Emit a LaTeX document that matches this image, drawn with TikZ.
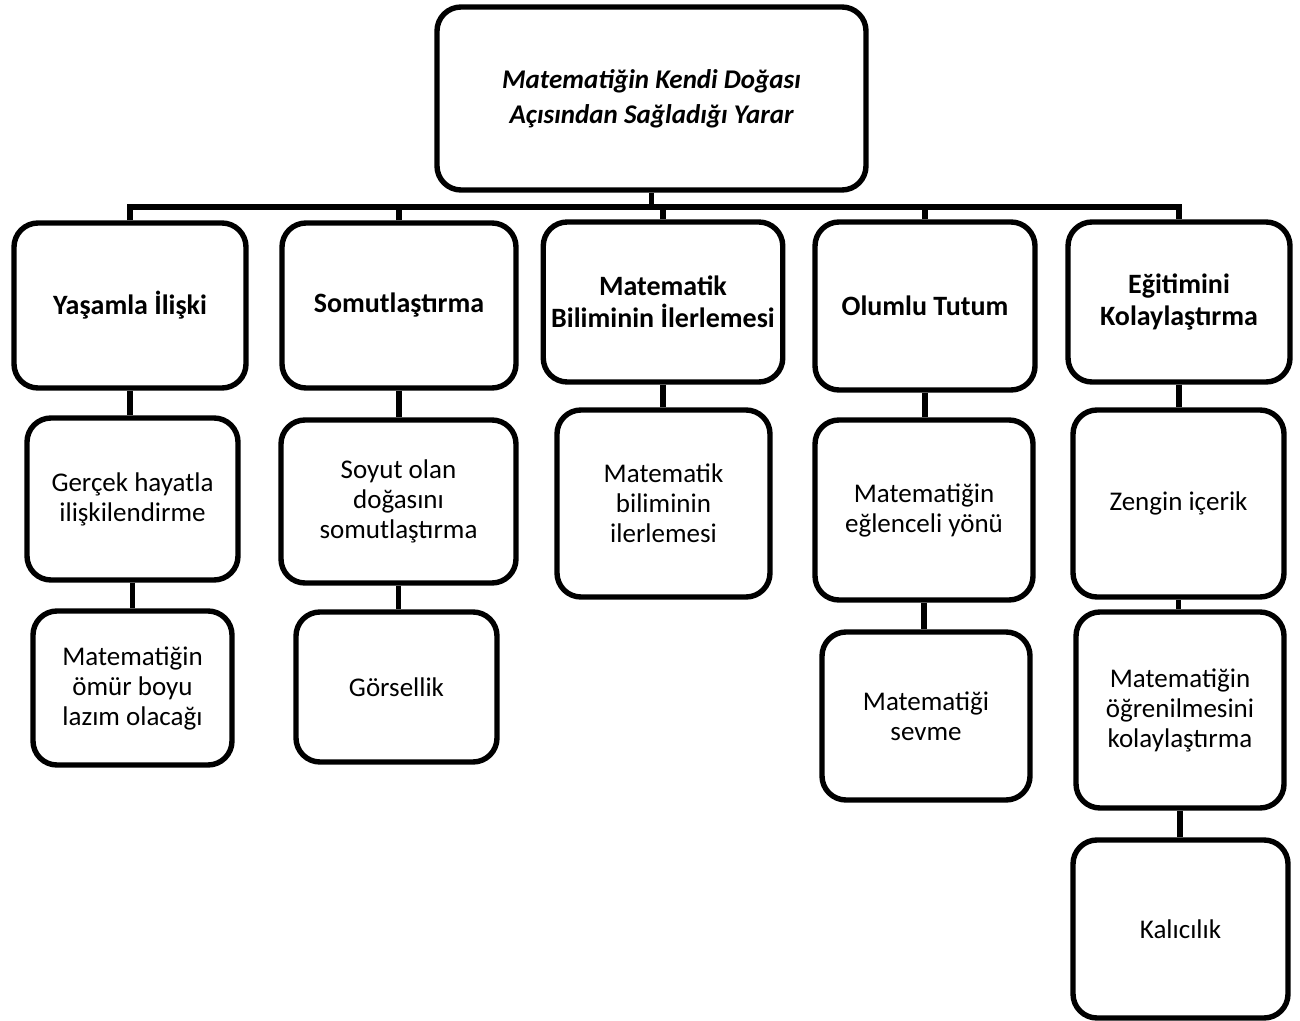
\documentclass[tikz,border=0pt]{standalone}
\usepackage{fontspec}
\setmainfont{Carlito}
\begin{document}
\begin{tikzpicture}[x=0.5pt,y=0.5pt]
\tikzstyle{kbox}=[draw, line width=2.7pt, rounded corners=12pt, align=center, inner sep=4pt, font=\fontsize{13.5}{15}\selectfont]
\tikzstyle{khead}=[kbox, font=\fontsize{14}{16}\selectfont\bfseries]
\tikzstyle{ktop}=[kbox, font=\fontsize{13.5}{17.5}\selectfont\bfseries\itshape]
\tikzstyle{link}=[line width=2.7pt]
\useasboundingbox (0,0) rectangle (1300,-1021);
\node[ktop, minimum width=214.5pt, minimum height=91.5pt] (top) at (651.5,-98.5) {Matematiğin Kendi Doğası\\Açısından Sağladığı Yarar};
% first row
\node[khead, minimum width=116pt, minimum height=82.5pt] (a1) at (130,-305.5) {Yaşamla İlişki};
\node[khead, minimum width=117pt, minimum height=82.5pt] (a2) at (399,-305.5) {Somutlaştırma};
\node[khead, minimum width=118pt, minimum height=80pt] (a3) at (663,-302) {Matematik\\Biliminin İlerlemesi};
\node[khead, minimum width=110pt, minimum height=84pt] (a4) at (925,-306) {Olumlu Tutum};
\node[khead, minimum width=111pt, minimum height=80pt] (a5) at (1179,-302) {Eğitimini\\Kolaylaştırma};
% second row
\node[kbox, minimum width=105.5pt, minimum height=81pt] (b1) at (132.5,-499) {Gerçek hayatla\\ilişkilendirme};
\node[kbox, minimum width=117.5pt, minimum height=81.5pt] (b2) at (398.5,-501.5) {Soyut olan\\doğasını\\somutlaştırma};
\node[kbox, minimum width=106.5pt, minimum height=93.5pt] (b3) at (663.5,-503.5) {Matematik\\biliminin\\ilerlemesi};
\node[kbox, minimum width=109pt, minimum height=90pt] (b4) at (924,-510) {Matematiğin\\eğlenceli yönü};
\node[kbox, minimum width=105.5pt, minimum height=93.5pt] (b5) at (1178.5,-503.5) {Zengin içerik};
% third row
\node[kbox, minimum width=99.5pt, minimum height=77pt] (c1) at (132.5,-688) {Matematiğin\\ömür boyu\\lazım olacağı};
\node[kbox, minimum width=100.5pt, minimum height=75pt] (c2) at (396.5,-687) {Görsellik};
\node[kbox, minimum width=104pt, minimum height=84pt] (c4) at (926,-716) {Matematiği\\sevme};
\node[kbox, minimum width=104pt, minimum height=98pt] (c5) at (1180,-710) {Matematiğin\\öğrenilmesini\\kolaylaştırma};
\node[kbox, minimum width=107.5pt, minimum height=89pt] (d5) at (1180.5,-929) {Kalıcılık};
% connectors
\coordinate (bus) at (651,-207);
\draw[link] (top.south) -- (top.south |- bus);
\draw[link] (a1.north) |- (a5.north |- bus) -- (a5.north);
\foreach \n in {a2,a3,a4}
  \draw[link] (\n.north) -- (\n.north |- bus);
\foreach \u/\l in {a1/b1,a2/b2,a3/b3,a4/b4,a5/b5,b1/c1,b2/c2,b4/c4,b5/c5,c5/d5}
  \draw[link] (\u.south) -- (\u.south |- \l.north);
\end{tikzpicture}
\end{document}
